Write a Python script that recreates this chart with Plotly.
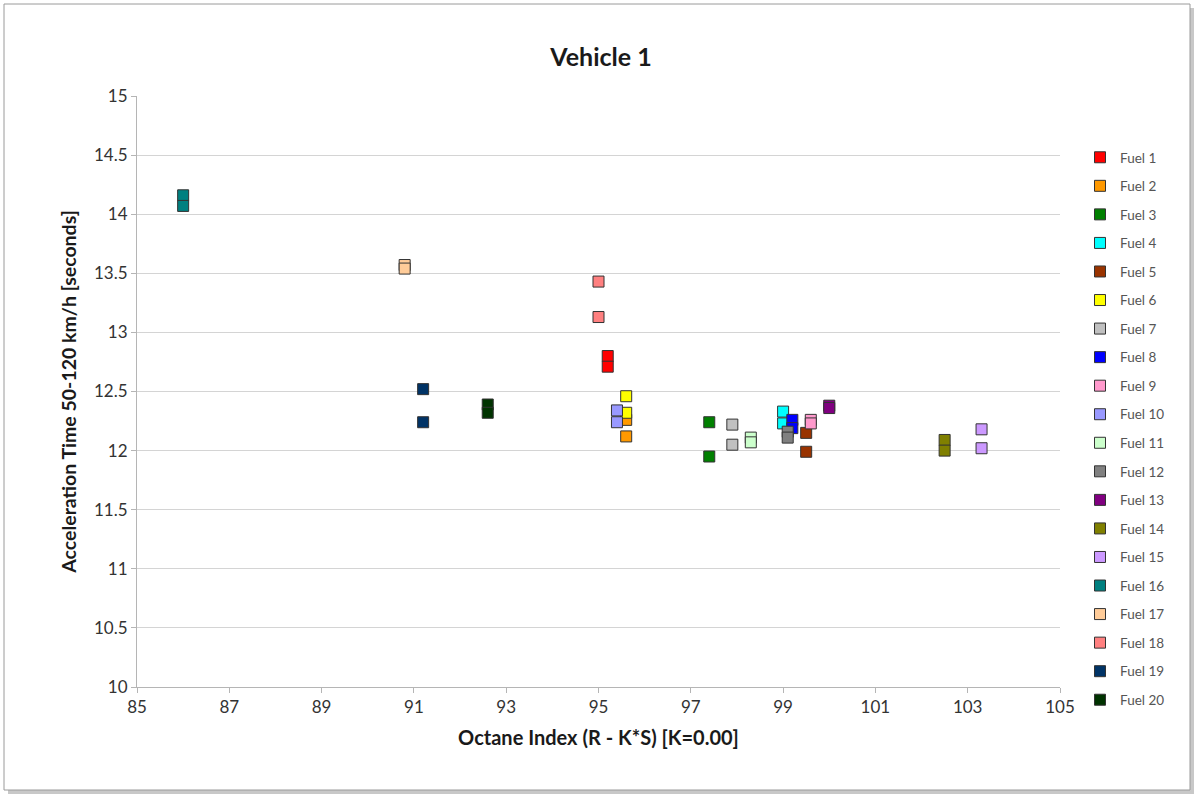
import plotly.graph_objects as go

fuels = [f"Fuel {i}" for i in range(1, 21)]
colors = ["#FF0000", "#FF9900", "#008000", "#00FFFF", "#993300", "#FFFF00", "#C0C0C0",
          "#0000FF", "#FF99CC", "#9999FF", "#CCFFCC", "#808080", "#800080", "#808000",
          "#CC99FF", "#008080", "#FFCC99", "#FF8080", "#003366", "#003300"]
octane = [95.2, 95.6, 97.4, 99.0, 99.5, 95.6, 97.9, 99.2, 99.6, 95.4,
          98.3, 99.1, 100.0, 102.5, 103.3, 86.0, 90.8, 95.0, 91.2, 92.6]
accel_a = [12.80, 12.26, 12.24, 12.33, 12.15, 12.46, 12.22, 12.26, 12.26, 12.34,
           12.11, 12.16, 12.38, 12.09, 12.18, 14.16, 13.57, 13.43, 12.52, 12.39]
accel_b = [12.71, 12.12, 11.95, 12.23, 11.99, 12.32, 12.05, 12.19, 12.23, 12.24,
           12.07, 12.11, 12.36, 12.00, 12.02, 14.07, 13.54, 13.13, 12.24, 12.32]

FONT = "Lato, 'Open Sans', sans-serif"
fig = go.Figure()
for i, name in enumerate(fuels):
    fig.add_trace(go.Scatter(
        x=[octane[i], octane[i]], y=[accel_a[i], accel_b[i]],
        mode="markers", name=name, legendgroup=name,
        marker=dict(symbol="square", size=11, color=colors[i],
                    line=dict(color="#333333", width=1)),
    ))

L, R, T, B = 137, 138, 96, 109
W, H = 1198, 796
pw, ph = W - L - R, H - T - B
def px2paper_x(px):
    return (px - L) / pw
def px2paper_y(py):
    return (H - B - py) / ph

# chart frame with shadow
fig.add_shape(type="rect", xref="paper", yref="paper", layer="below",
              x0=px2paper_x(8), x1=px2paper_x(1194), y0=px2paper_y(794), y1=px2paper_y(8),
              line=dict(width=0), fillcolor="#c8c8c8")
fig.add_shape(type="rect", xref="paper", yref="paper", layer="below",
              x0=px2paper_x(4), x1=px2paper_x(1190), y0=px2paper_y(790), y1=px2paper_y(4),
              line=dict(color="#9a9a9a", width=1), fillcolor="white")

fig.update_layout(
    width=W, height=H,
    margin=dict(l=L, r=R, t=T, b=B, autoexpand=False),
    paper_bgcolor="white", plot_bgcolor="white",
    font=dict(family=FONT, color="#262626"),
    title=dict(text="<b>Vehicle 1</b>", x=601 / W, xanchor="center", xref="container",
               y=1 - 57 / H, yanchor="middle", yref="container",
               font=dict(size=25, color="#1a1a1a")),
    showlegend=True,
    legend=dict(xref="container", yref="container", x=1080 / W, y=1 - 142 / H,
                xanchor="left", yanchor="top", tracegroupgap=8, maxheight=720,
                font=dict(size=13.5, color="#555555"), bgcolor="rgba(0,0,0,0)",
                itemwidth=30),
    xaxis=dict(range=[85, 105], tickvals=list(range(85, 106, 2)), showgrid=False,
               zeroline=False, showline=True, linecolor="#b5b5b5", linewidth=1,
               ticks="outside", ticklen=5, tickcolor="#b5b5b5",
               tickfont=dict(size=17, color="#333333"),
               title=dict(text="<b>Octane Index (R - K*S) [K=0.00]</b>",
                          font=dict(size=20, color="#1a1a1a"), standoff=14)),
    yaxis=dict(range=[10, 15], dtick=0.5, showgrid=True, gridcolor="#d4d4d4",
               zeroline=False, showline=True, linecolor="#b5b5b5", linewidth=1,
               ticks="outside", ticklen=5, tickcolor="#b5b5b5",
               tickfont=dict(size=17, color="#333333"),
               title=dict(text="<b>Acceleration Time 50-120 km/h [seconds]</b>",
                          font=dict(size=19.5, color="#1a1a1a"), standoff=12)),
)

fig.write_html("out.html", config={"displayModeBar": False},
               post_script="document.body.style.margin='0';document.body.style.overflow='hidden';")
